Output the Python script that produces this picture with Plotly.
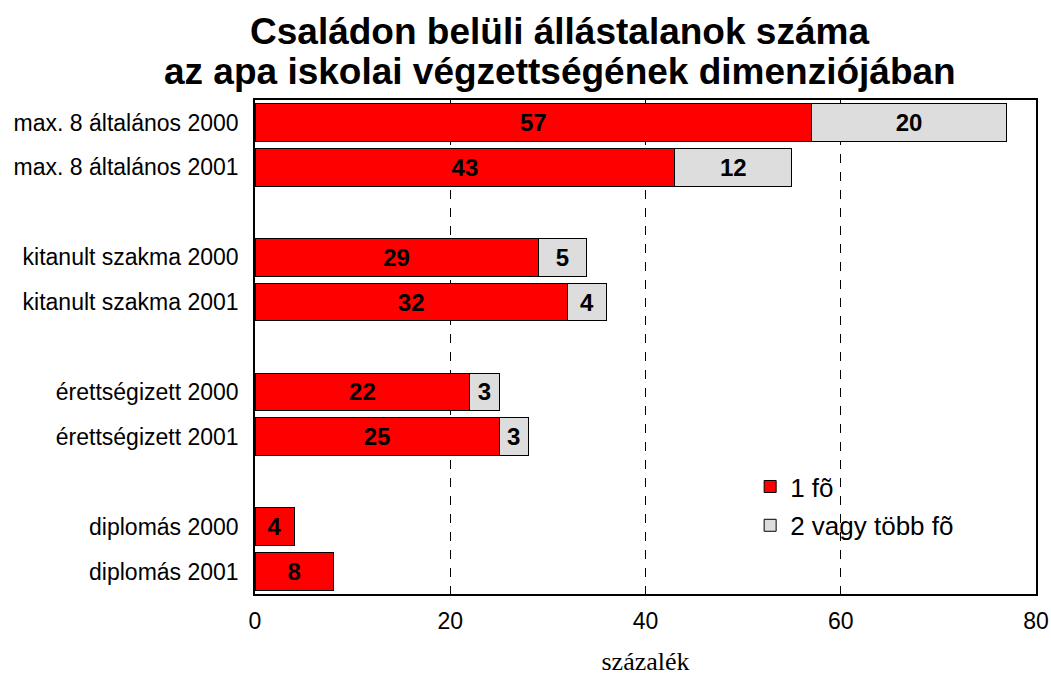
import plotly.graph_objects as go

categories = ["max. 8 általános 2000", "max. 8 általános 2001",
              "kitanult szakma 2000", "kitanult szakma 2001",
              "érettségizett 2000", "érettségizett 2001",
              "diplomás 2000", "diplomás 2001"]
one_person = [57, 43, 29, 32, 22, 25, 4, 8]
two_or_more = [20, 12, 5, 4, 3, 3, None, None]
series_names = ["1 fõ", "2 vagy több fõ"]
title_lines = ["Családon belüli állástalanok száma",
               "az apa iskolai végzettségének dimenziójában"]
x_ticks = [0, 20, 40, 60, 80]

# positions: two bars per group, one empty slot between groups
ypos = [(i // 2) * 3 + (i % 2) for i in range(len(categories))]

FONT = "Liberation Sans, Arial, sans-serif"
bar_text = dict(family=FONT, size=24, color="black")

fig = go.Figure()
fig.add_trace(go.Bar(
    y=ypos, x=one_person, orientation="h", name=series_names[0],
    legendgroup="a",
    marker=dict(color="#FF0000", line=dict(color="black", width=1)),
    width=0.84, texttemplate="<b>%{x}</b>",
    textposition="inside", insidetextanchor="middle", textfont=bar_text,
))
fig.add_trace(go.Bar(
    y=ypos, x=two_or_more, orientation="h", name=series_names[1],
    legendgroup="b",
    marker=dict(color="#DDDDDD", line=dict(color="black", width=1)),
    width=0.84, texttemplate="<b>%{x}</b>",
    textposition="inside", insidetextanchor="middle", textfont=bar_text,
))

fig.add_annotation(text="<b>" + title_lines[0] + "</b>", xref="paper", yref="paper",
                   x=0.39, y=1.138, xanchor="center", yanchor="middle",
                   showarrow=False, font=dict(family=FONT, size=37, color="black"))
fig.add_annotation(text="<b>" + title_lines[1] + "</b>", xref="paper", yref="paper",
                   x=0.39, y=1.057, xanchor="center", yanchor="middle",
                   showarrow=False, font=dict(family=FONT, size=37, color="black"))

fig.update_layout(
    barmode="stack",
    width=1051, height=676,
    margin=dict(l=255, r=15, t=100, b=82, autoexpand=False),
    paper_bgcolor="white", plot_bgcolor="white",
    font=dict(family=FONT, color="black"),
    uniformtext=dict(minsize=24, mode="show"),
    showlegend=True,
    legend=dict(x=0.634, y=0.265, xanchor="left", yanchor="top",
                bgcolor="rgba(0,0,0,0)", font=dict(size=26),
                traceorder="grouped", tracegroupgap=2),
    xaxis=dict(range=[0, 80], tickvals=x_ticks, showgrid=True,
               gridcolor="black", griddash="dash", gridwidth=1,
               showline=True, mirror=True, linecolor="black", linewidth=1.5,
               zeroline=False, ticks="", tickfont=dict(size=23), automargin=False,
               ticklabelstandoff=6,
               title=dict(text="százalék", standoff=22,
                          font=dict(family="Liberation Serif, Times New Roman, serif", size=26))),
    yaxis=dict(range=[10.5, -0.5], tickvals=ypos, ticktext=categories,
               showgrid=False, showline=True, mirror=True, linecolor="black",
               linewidth=1.5, zeroline=False, ticks="", ticklabelstandoff=10,
               tickfont=dict(size=23), automargin=False),
)

fig.write_html("out.html", config={"displayModeBar": False},
               post_script="document.body.style.margin='0px';")
